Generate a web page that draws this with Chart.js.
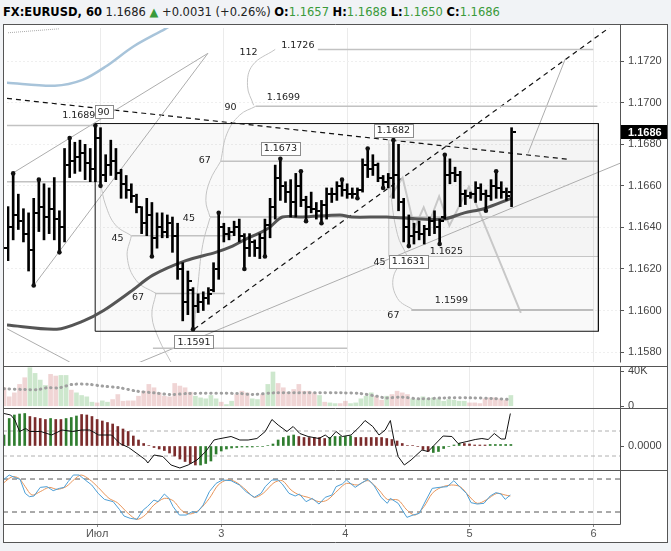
<!DOCTYPE html>
<html>
<head>
<meta charset="utf-8">
<script src="https://cdn.jsdelivr.net/npm/chart.js@4.4.1/dist/chart.umd.min.js"></script>
<style>
  body { margin: 0; width: 671px; height: 551px; overflow: hidden; position: relative; background: #f1f3f6; font-family: "DejaVu Sans", sans-serif; }
  #hdr { position: absolute; left: 3px; top: 4px; font-size: 11.5px; line-height: 16px; white-space: nowrap; color: #222; }
  #hdr b { color: #000; }
  #hdr .g { color: #3a9a3a; }
  canvas { position: absolute; left: 3px; background: #fff; }
</style>
</head>
<body>
<div id="hdr"><b>FX:EURUSD, 60</b> 1.1686 <span class="g">▲</span> +0.0031 (+0.26%) <b>O:</b><span class="g">1.1657</span> <b>H:</b><span class="g">1.1688</span> <b>L:</b><span class="g">1.1650</span> <b>C:</b><span class="g">1.1686</span></div>
<canvas id="main" width="665" height="342" style="top:24px"></canvas>
<canvas id="vol" width="665" height="42" style="top:366px"></canvas>
<canvas id="macd" width="665" height="62" style="top:408px"></canvas>
<canvas id="stoch" width="665" height="73" style="top:470px"></canvas>
<script>
// x axis: one unit per hourly bar
const dayTicks = [18, 42, 66, 90, 114];
const dayLabels = ['Июл', '3', '4', '5', '6'];
const priceTicks = [1.158, 1.160, 1.162, 1.164, 1.166, 1.168, 1.170, 1.172];
const lastPrice = 1.1686;

const opens = [1.1630,1.1640,1.1646,1.1643,1.1637,1.1629,1.1647,1.1650,1.1645,1.1649,
  1.1644,1.1640,1.1670,1.1672,1.1674,1.1676,1.1671,1.1668,1.1683,1.1665,
  1.1670,1.1672,1.1666,1.1661,1.1658,1.1655,1.1650,1.1642,1.1646,1.1635,
  1.1640,1.1638,1.1642,1.1636,1.1620,1.1604,1.1610,1.1602,1.1604,1.1606,
  1.1610,1.1620,1.1640,1.1637,1.1638,1.1640,1.1636,1.1630,1.1633,1.1630,
  1.1635,1.1641,1.1650,1.1664,1.1660,1.1657,1.1652,1.1660,1.1653,1.1650,
  1.1649,1.1648,1.1651,1.1656,1.1656,1.1660,1.1658,1.1656,1.1656,1.1658,
  1.1670,1.1668,1.1670,1.1664,1.1662,1.1664,1.1665,1.1652,1.1640,1.1636,
  1.1638,1.1637,1.1639,1.1643,1.1640,1.1645,1.1665,1.1666,1.1665,1.1656,
  1.1655,1.1656,1.1659,1.1656,1.1655,1.1660,1.1659,1.1657,1.1657];
const highs = [1.1650,1.1666,1.1656,1.1649,1.1647,1.1654,1.1663,1.1661,1.1659,1.1664,
  1.1648,1.1678,1.1683,1.1681,1.1682,1.1680,1.1678,1.1689,1.1688,1.1675,
  1.1682,1.1678,1.1668,1.1665,1.1661,1.1656,1.1650,1.1654,1.1652,1.1647,
  1.1647,1.1646,1.1645,1.1642,1.1623,1.1619,1.1611,1.1608,1.1609,1.1611,
  1.1623,1.1647,1.1642,1.1640,1.1643,1.1644,1.1637,1.1637,1.1634,1.1637,
  1.1644,1.1654,1.1670,1.1673,1.1662,1.1663,1.1666,1.1667,1.1655,1.1657,
  1.1652,1.1653,1.1659,1.1659,1.1662,1.1663,1.1661,1.1659,1.1659,1.1673,
  1.1678,1.1675,1.1671,1.1665,1.1666,1.1682,1.1680,1.1654,1.1646,1.1642,
  1.1643,1.1641,1.1645,1.1648,1.1644,1.1675,1.1673,1.1669,1.1667,1.1658,
  1.1657,1.1662,1.1661,1.1658,1.1663,1.1667,1.1662,1.1659,1.1688];
const lows = [1.1624,1.1634,1.1639,1.1633,1.1619,1.1612,1.1638,1.1634,1.1637,1.1634,
  1.1628,1.1633,1.1664,1.1666,1.1667,1.1663,1.1662,1.1662,1.1660,1.1662,
  1.1665,1.1663,1.1654,1.1654,1.1652,1.1647,1.1637,1.1636,1.1626,1.1630,
  1.1635,1.1635,1.1628,1.1615,1.1595,1.1598,1.1591,1.1599,1.1600,1.1603,
  1.1609,1.1615,1.1633,1.1634,1.1636,1.1633,1.1620,1.1626,1.1626,1.1625,
  1.1626,1.1635,1.1644,1.1653,1.1652,1.1645,1.1645,1.1650,1.1643,1.1647,
  1.1644,1.1642,1.1644,1.1652,1.1653,1.1655,1.1654,1.1654,1.1654,1.1657,
  1.1664,1.1665,1.1662,1.1659,1.1659,1.1654,1.1648,1.1633,1.1631,1.1632,
  1.1634,1.1632,1.1636,1.1637,1.1632,1.1644,1.1661,1.1662,1.1650,1.1651,
  1.1654,1.1652,1.1653,1.1648,1.1653,1.1654,1.1654,1.1653,1.1650];
const closes = [1.1640,1.1646,1.1643,1.1637,1.1629,1.1647,1.1650,1.1645,1.1649,1.1644,
  1.1640,1.1670,1.1672,1.1674,1.1676,1.1671,1.1668,1.1683,1.1665,1.1670,
  1.1672,1.1666,1.1661,1.1658,1.1655,1.1650,1.1642,1.1646,1.1635,1.1640,
  1.1638,1.1642,1.1636,1.1620,1.1604,1.1614,1.1602,1.1604,1.1606,1.1608,
  1.1620,1.1640,1.1637,1.1638,1.1640,1.1636,1.1630,1.1633,1.1630,1.1635,
  1.1641,1.1650,1.1664,1.1660,1.1657,1.1652,1.1660,1.1653,1.1650,1.1649,
  1.1648,1.1651,1.1656,1.1656,1.1660,1.1658,1.1656,1.1656,1.1658,1.1670,
  1.1668,1.1670,1.1664,1.1662,1.1664,1.1665,1.1652,1.1640,1.1636,1.1638,
  1.1637,1.1639,1.1643,1.1640,1.1643,1.1665,1.1666,1.1665,1.1656,1.1655,
  1.1656,1.1659,1.1656,1.1655,1.1660,1.1659,1.1657,1.1655,1.1686];

// swing points marked with dots
const pivotHi = [1, 6, 12, 17, 41, 53, 57, 65, 70, 75, 85, 95];
const pivotLo = [5, 10, 18, 28, 36, 46, 50, 58, 61, 68, 73, 78, 84, 93];

// moving average and upper band, [bar, price]
const maPts = [[-0.2,1.1593],[9.5,1.1591],[14.7,1.1595],[18.6,1.1600],[23.8,1.1609],[28.2,1.1617],
  [34.6,1.1624],[40.4,1.1628],[43.7,1.1631],[46,1.1634],[49.5,1.1638],[50.9,1.1640],[53.4,1.1645],
  [57.3,1.1645],[64.6,1.1646],[66.9,1.1645],[73.7,1.1645],[80.5,1.1644],[84.9,1.1644],[88.8,1.1647],
  [92.6,1.1649],[98,1.1654]];
const bandPts = [[-0.2,1.17096],[9.1,1.17082],[14.5,1.1711],[19.1,1.17176],[24.4,1.17271],[30.6,1.17356],[33.1,1.17393]];

// drawings on the price pane, [bar, price]
const rectBig = [[16.96, 1.1690], [114.9, 1.1590]];
const rectSmall = [[74.1, 1.1682], [114.9, 1.1626]];
const fibLevels = [[-0.2,17,1.1689],[-0.2,18,1.1662],[24,43.7,1.1636],[28.6,42.2,1.16082],[41.4,114.9,1.16719],
  [39.3,114.9,1.1645],[48.2,114.7,1.16983],[60.3,113.9,1.17257],[28.2,66,1.15818]];
const level1599 = [78.5, 113.9, 1.16002];
const trendLines = [
  [[0.97,1.16662],[38.9,1.17238]],
  [[5.0,1.16120],[38.9,1.17238]],
  [[24.4,1.15738],[120.1,1.16719]],
  [[-0.2,1.15912],[12,1.15752]],
  [[108.5,1.17214],[101.2,1.16757]]
];
const zigzag = [[74.3,1.16544],[76.8,1.16639],[79.1,1.16398],[80.9,1.16497],[82.0,1.16426],[83.9,1.16549],
  [85.9,1.16408],[89.7,1.16596],[99.8,1.15988]];
const dashLines = [
  [[-0.2,1.17021],[108.9,1.16728]],
  [[36.2,1.1591],[120.1,1.17417]]
];
const dotLine = [[0,1.17337],[9.9,1.17356]];
const arcs = [
  [[52.0,1.17257],[47.6,1.17181],[46.6,1.17082],[47.8,1.16988]],
  [[48.2,1.16983],[45.1,1.16941],[42.6,1.16851],[41.4,1.16719]],
  [[41.4,1.16719],[39.3,1.16625],[38.5,1.16530],[39.3,1.16450]],
  [[39.3,1.16445],[37.9,1.16318],[36.9,1.16106],[36.2,1.15903]],
  [[18.0,1.16610],[19.0,1.16507],[20.9,1.16412],[24.0,1.16360]],
  [[24.0,1.16360],[23.2,1.16257],[25.0,1.16143],[28.8,1.16082]],
  [[28.8,1.16082],[28.0,1.15974],[29.4,1.15860],[31.7,1.15752]],
  [[74.3,1.16804],[74.5,1.16577],[75.8,1.16365],[77.6,1.16266]],
  [[77.6,1.16261],[75.0,1.16162],[75.8,1.16058],[78.9,1.16002]]
];
// [bar, price, text, boxed, align]
const notes = [
  [17.0,1.16940,'1.1689',false,'right'],
  [18.6,1.16955,'90',true,'center'],
  [53.0,1.16779,'1.1673',true,'center'],
  [75.0,1.16864,'1.1682',true,'center'],
  [77.9,1.16235,'1.1631',true,'center'],
  [36.2,1.15846,'1.1591',true,'center'],
  [56.4,1.17277,'1.1726',false,'center'],
  [53.6,1.17024,'1.1699',false,'center'],
  [85.3,1.16286,'1.1625',false,'center'],
  [86.3,1.16046,'1.1599',false,'center'],
  [46.8,1.17242,'112',false,'center'],
  [43.3,1.16978,'90',false,'center'],
  [38.3,1.16724,'67',false,'center'],
  [35.2,1.16445,'45',false,'center'],
  [21.3,1.16346,'45',false,'center'],
  [25.3,1.16063,'67',false,'center'],
  [72.3,1.16233,'45',false,'center'],
  [75.0,1.15974,'67',false,'center']
];

// volume, thousands
const volumes = [21.0,10.7,15.2,24.8,32.4,43.8,37.3,29.7,23.6,36.2,
  34.3,35.0,35.0,18.3,15.2,12.2,10.7,4.6,3.8,6.1,
  4.6,7.6,13.3,5.7,6.1,6.1,11.4,17.1,24.8,21.0,
  15.2,11.4,10.7,25.9,22.9,21.0,16.0,11.4,9.5,8.4,
  12.2,8.4,4.6,1.9,5.7,13.3,17.1,15.2,8.4,7.6,
  13.3,24.8,38.9,25.9,21.0,16.0,19.0,24.8,17.1,17.1,
  15.2,12.2,4.6,3.8,3.0,3.0,5.7,3.0,3.8,8.4,
  11.4,15.2,11.4,6.9,11.4,13.3,17.1,15.2,13.3,8.4,
  7.6,10.7,8.4,9.5,8.4,5.7,7.6,6.9,5.7,5.7,
  3.8,3.8,3.0,8.4,9.5,9.5,8.4,6.9,12.2];
const volDir = ['rrrrrggggr','rggrggggrg','grrrrrrrrr','rrrrrrrggg','ggrggrrrgg',
  'rggrrrrrrr','rgrggrrggg','ggrrgrrrrg','gggggggggg','rrrrrrrrg'].join('');
const volMaX = [0,4.1,6.6,8.3,10.7,13.2,16.5,19,22.3,25.7,29,32.3,35.6,45.5,48,52.2,65.4,68.8,72.1,73.7,77,80.3,85.3,90.3,94.5,97.8];
const volMaY = [19.8,19.0,19.0,21.0,21.0,24.8,24.8,22.9,21.0,17.1,15.2,13.3,14.5,14.5,13.3,15.2,15.2,14.5,11.4,9.5,10.3,8.4,9.5,9.5,8.8,7.6];

// MACD pane, units of 0.00001
const macdHist = [22,55,62,64,65,59,57,55,53,55,
  53,53,55,57,60,63,62,59,53,50,
  47,44,39,34,29,20,12,5,1,-3,
  -6,-9,-14,-20,-26,-31,-35,-38,-38,-35,
  -30,-16,-10,-6,-4,-3,-2,-2,-2,-1,
  -1,1,4,12,17,20,22,19,17,17,
  17,17,15,17,19,19,19,20,17,17,
  17,17,17,17,15,13,10,5,1,1,
  -1,-7,-11,-13,-11,-5,-1,2,5,5,
  4,2,2,2,3,3,3,3,3];
const histDir = ['gggggmmmmg','mmgggmmmmm','mmmmmmmmmm','mmmmmmmmgg','gggggggggg',
  'gggggggmmm','mmmgggggmm','mmmmmmmmmm','mmmggggggm','mmmmggggg'].join('');
const macdX = [0,1.3,2.1,3,4.2,5,7.1,9.2,11.2,13.3,15,16.6,18.3,20.8,22.4,24.1,25.7,27.4,27.8,29,
  30.7,32.3,34,35.6,37.3,39,40.6,41.4,43.9,45.6,47.2,48.9,50.5,51.8,53,54.7,55.9,57.2,58.8,60.9,
  62.1,63,64.2,65.4,67.1,68.8,69.8,71.3,72.5,73.7,74.7,75.4,76.2,77.4,78.7,80.8,82,84.9,86.6,87.8,
  89.5,91.1,92.4,93.6,94.8,96.1,96.9,97.9];
const macdY = [65,62,52,29,35,29,29,22,32,29,32,32,22,22,5,-3,-15,-28,-34,-18,
  -21,-38,-44,-38,-28,-11,12,14,19,12,12,15,29,53,42,29,39,25,19,15,
  22,15,29,19,22,39,51,39,22,32,51,12,-21,-38,-28,-8,-11,20,19,5,
  9,13,15,13,25,14,14,65];
const macdBands = [30, -20];

// stochastic
const kX = [-0.2,1.0,2.0,3.1,4.1,4.9,5.8,7.0,8.3,9.5,10.7,11.6,12.4,13.4,14.5,15.7,16.96,18.2,19.4,21.1,
  22.3,23.2,24.4,25.7,26.9,27.7,28.97,29.8,31.0,31.9,32.7,33.9,35.2,36.4,37.3,38.5,39.7,41.0,42.2,43.9,
  45.5,46.8,48.4,49.7,50.5,51.8,53.0,53.8,55.1,56.3,57.1,58.4,59.6,60.9,62.1,63.4,64.2,65.4,66.2,67.9,
  69.2,70.4,71.6,72.9,74.1,74.7,76.2,77.0,77.9,79.1,80.3,81.6,82.8,84.1,85.7,86.97,88.2,89.4,90.3,91.5,
  92.8,94.0,95.1,96.1,96.9,97.9];
const kY = [78.2,87.3,83.0,79.4,53.9,47.9,49.1,64.8,66.1,58.8,63.0,64.8,75.2,87.3,87.3,78.2,69.1,53.9,43.0,38.8,
  24.8,12.7,8.5,6.7,23.6,29.7,41.8,38.8,52.7,44.8,29.7,14.5,14.5,20.6,18.8,32.7,57.0,72.1,78.2,77.0,
  69.1,57.0,46.7,53.9,66.1,78.2,78.2,70.9,53.9,49.1,52.7,38.8,44.8,34.5,46.7,50.9,66.1,70.9,78.2,64.8,
  73.3,79.4,67.3,46.7,35.8,44.8,35.8,23.6,10.3,14.5,17.6,41.8,63.0,64.8,66.1,77.0,64.8,53.9,37.0,34.5,
  35.8,49.1,55.2,52.7,43.0,50.9];
const dX = [-0.2,1.6,2.9,4.1,5.4,7.0,8.7,10.3,12.0,13.6,14.9,16.5,18.2,20.3,21.9,24.0,25.7,27.3,28.97,31.0,
  32.7,34.4,36.0,37.7,39.7,41.4,43.1,44.7,46.8,48.4,50.1,52.2,53.8,55.5,57.1,58.8,60.9,62.5,64.6,66.2,
  68.3,70.4,72.5,74.1,76.2,77.9,79.5,81.2,82.8,84.5,86.5,88.2,89.9,91.5,93.2,95.3,96.9,97.9];
const dY = [72.1,84.2,81.2,66.1,50.9,57.0,64.8,61.2,66.1,79.4,87.3,79.4,64.8,44.8,37.0,17.6,6.7,14.5,32.7,44.8,
  40.6,22.4,16.4,23.6,44.8,69.1,78.2,75.2,60.0,46.7,53.9,73.3,77.0,60.0,50.9,46.7,38.8,41.8,60.0,72.1,
  69.1,77.0,60.0,43.0,41.8,23.6,14.5,29.7,53.9,64.8,69.1,66.1,49.1,35.8,41.8,53.9,50.9,49.1];
const stochBands = [80, 20];

const X_MIN = -0.2, X_MAX = 119.1;
Chart.defaults.font.family = 'Liberation Sans';

const pts = arr => arr.map(p => ({x: p[0], y: p[1]}));
function lineDs(points, color, width, extra) {
  return Object.assign({type: 'line', data: pts(points), borderColor: color, borderWidth: width,
    pointRadius: 0, fill: false, tension: 0, order: 10}, extra || {});
}
function hLine(v, color, dash) {
  return lineDs([[X_MIN, v], [X_MAX, v]], color, 1, {borderDash: dash});
}

const framePlugin = {
  id: 'frame',
  afterDraw(chart, args, opts) {
    const {ctx, chartArea: a, width, height} = chart;
    const r = Math.round(a.right) + 0.5, b = Math.round(a.bottom) + 0.5;
    ctx.save();
    ctx.strokeStyle = '#555';
    ctx.lineWidth = 1;
    ctx.beginPath();
    ctx.moveTo(0, 0.5); ctx.lineTo(width, 0.5);
    ctx.moveTo(0.5, 0); ctx.lineTo(0.5, height);
    ctx.moveTo(width - 0.5, 0); ctx.lineTo(width - 0.5, height);
    ctx.moveTo(r, 0); ctx.lineTo(r, b);
    if (opts.last) {
      ctx.moveTo(0, b); ctx.lineTo(r, b);
      ctx.moveTo(0, height - 0.5); ctx.lineTo(width, height - 0.5);
    }
    ctx.stroke();
    ctx.restore();
  }
};

function paneOptions(yMin, yMax, yTicks, yLabel, showX, yGrid) {
  return {
    responsive: false, animation: false, devicePixelRatio: 1,
    layout: {padding: 0},
    plugins: {legend: {display: false}, tooltip: {enabled: false}, frame: {last: showX}},
    scales: {
      x: {
        type: 'linear', min: X_MIN, max: X_MAX, offset: false,
        afterBuildTicks: s => { s.ticks = dayTicks.map(v => ({value: v})); },
        afterFit: s => { s.height = showX ? 19 : 0; s.paddingLeft = 0; s.paddingRight = 0; },
        grid: {color: '#ebebeb', offset: false, drawTicks: showX, tickLength: 3, tickColor: '#888'},
        border: {display: false},
        ticks: {display: showX, padding: 0, color: '#555', font: {size: 11}, maxRotation: 0, autoSkip: false,
          callback: v => { const k = dayTicks.indexOf(v); return k < 0 ? '' : dayLabels[k]; }}
      },
      y: {
        position: 'right', min: yMin, max: yMax,
        afterBuildTicks: s => { s.ticks = yTicks.map(v => ({value: v})); },
        afterFit: s => { s.width = 48; s.paddingTop = 0; s.paddingBottom = 0; },
        grid: {color: '#efefef', drawOnChartArea: yGrid, tickLength: 4, tickColor: '#555'},
        border: {display: false, dash: [2, 2]},
        ticks: {padding: 4, color: '#444', font: {size: 11}, callback: yLabel}
      }
    }
  };
}

// price pane
const mainDs = [];
mainDs.push(lineDs([[rectBig[0][0], rectBig[0][1]], [rectBig[1][0], rectBig[0][1]], [rectBig[1][0], rectBig[1][1]],
  [rectBig[0][0], rectBig[1][1]], [rectBig[0][0], rectBig[0][1]]], '#111', 1));
mainDs.push(lineDs([[rectSmall[0][0], rectSmall[0][1]], [rectSmall[1][0], rectSmall[0][1]], [rectSmall[1][0], rectSmall[1][1]],
  [rectSmall[0][0], rectSmall[1][1]], [rectSmall[0][0], rectSmall[0][1]]], '#c4c4c4', 1));
fibLevels.forEach(f => mainDs.push(lineDs([[f[0], f[2]], [f[1], f[2]]], '#c2c2c2', 1.5)));
mainDs.push(lineDs([[level1599[0], level1599[2]], [level1599[1], level1599[2]]], '#bdbdbd', 2));
arcs.forEach(a => mainDs.push(lineDs(a, '#c4c4c4', 1, {tension: 0.4})));
trendLines.forEach(t => mainDs.push(lineDs(t, '#adadad', 1)));
mainDs.push(lineDs(zigzag, '#c8c8c8', 2));
dashLines.forEach(d => mainDs.push(lineDs(d, '#111', 1.2, {borderDash: [5, 4]})));
mainDs.push(lineDs(dotLine, '#aaa', 1, {borderDash: [1, 1]}));
mainDs.push(lineDs(bandPts, '#a8c4da', 2.5, {tension: 0.3, order: 9}));
mainDs.push(lineDs(maPts, '#555', 3, {tension: 0.3, order: 2}));
mainDs.push({type: 'bar', data: highs.map((h, i) => ({x: i, y: [lows[i], h]})), backgroundColor: '#000',
  barThickness: 2, order: 1});
mainDs.push({type: 'scatter', data: pivotHi.map(i => ({x: i, y: highs[i]})).concat(pivotLo.map(i => ({x: i, y: lows[i]}))),
  pointRadius: 2.3, pointBackgroundColor: '#111', pointBorderWidth: 0, order: 0});

const shadePlugin = {
  id: 'shade',
  beforeDatasetsDraw(chart) {
    const {ctx, scales: {x, y}} = chart;
    ctx.save();
    ctx.fillStyle = 'rgba(0,0,0,0.022)';
    [rectBig, rectSmall].forEach(r => {
      const x0 = x.getPixelForValue(r[0][0]), x1 = x.getPixelForValue(r[1][0]);
      const y0 = y.getPixelForValue(r[0][1]), y1 = y.getPixelForValue(r[1][1]);
      ctx.fillRect(x0, y0, x1 - x0, y1 - y0);
    });
    ctx.restore();
  }
};

const ohlcPlugin = {
  id: 'ohlc',
  afterDatasetsDraw(chart) {
    const {ctx, scales: {x, y}} = chart;
    ctx.save();
    ctx.fillStyle = '#000';
    for (let i = 0; i < closes.length; i++) {
      const px = Math.round(x.getPixelForValue(i));
      ctx.fillRect(px - 4, Math.round(y.getPixelForValue(opens[i])) - 1, 3, 2);
      ctx.fillRect(px + 1, Math.round(y.getPixelForValue(closes[i])) - 1, 3, 2);
    }
    ctx.font = '9.5px "DejaVu Sans"';
    ctx.textBaseline = 'middle';
    notes.forEach(n => {
      const px = x.getPixelForValue(n[0]), py = y.getPixelForValue(n[1]);
      const w = ctx.measureText(n[2]).width;
      ctx.textAlign = n[4];
      if (n[3]) {
        ctx.fillStyle = '#fff';
        ctx.strokeStyle = '#8c8c8c';
        ctx.lineWidth = 1;
        ctx.fillRect(Math.round(px - w / 2 - 3) + 0.5, Math.round(py - 7) + 0.5, Math.round(w + 6), 13);
        ctx.strokeRect(Math.round(px - w / 2 - 3) + 0.5, Math.round(py - 7) + 0.5, Math.round(w + 6), 13);
      }
      ctx.fillStyle = '#222';
      ctx.fillText(n[2], px, py);
    });
    ctx.restore();
  },
  afterDraw(chart) {
    const {ctx, chartArea: a, width, scales: {y}} = chart;
    const py = Math.round(y.getPixelForValue(lastPrice));
    ctx.save();
    ctx.fillStyle = '#000';
    ctx.fillRect(a.right + 1, py - 7, width - a.right - 2, 14);
    ctx.fillStyle = '#fff';
    ctx.font = 'bold 11px "Liberation Sans"';
    ctx.textBaseline = 'middle';
    ctx.fillText(lastPrice.toFixed(4), a.right + 8, py + 0.5);
    ctx.restore();
  }
};

new Chart(document.getElementById('main'), {
  type: 'bar',
  data: {datasets: mainDs},
  options: paneOptions(1.15752, 1.17360, priceTicks, v => v.toFixed(4), false, true),
  plugins: [shadePlugin, ohlcPlugin, framePlugin]
});

// volume pane
new Chart(document.getElementById('vol'), {
  type: 'bar',
  data: {datasets: [
    lineDs(volMaX.map((v, k) => [v, volMaY[k]]), '#a0a0a0', 3, {borderDash: [0.5, 4.7], borderCapStyle: 'round', tension: 0.3, order: 0}),
    {type: 'bar', data: volumes.map((v, i) => ({x: i, y: v})), barThickness: 4, order: 1,
      backgroundColor: volumes.map((v, i) => volDir[i] === 'g' ? 'rgba(100,180,100,0.32)' : 'rgba(205,115,115,0.3)')}
  ]},
  options: paneOptions(-2, 45.7, [0, 40], v => v === 0 ? '0' : v + 'K', false, false),
  plugins: [framePlugin]
});

// MACD pane
new Chart(document.getElementById('macd'), {
  type: 'bar',
  data: {datasets: [
    hLine(macdBands[0], '#b0b0b0', [4, 3]),
    hLine(macdBands[1], '#b0b0b0', [4, 3]),
    {type: 'bar', data: macdHist.map((v, i) => ({x: i, y: v})), barThickness: 2, order: 2,
      backgroundColor: macdHist.map((v, i) => histDir[i] === 'g' ? '#2f7d2f' : '#7b2c2c')},
    lineDs(macdX.map((v, k) => [v, macdY[k]]), '#111', 1, {order: 0})
  ]},
  options: paneOptions(-48, 76, [0], () => '0.0000', false, false),
  plugins: [framePlugin]
});

// stochastic pane
new Chart(document.getElementById('stoch'), {
  type: 'line',
  data: {datasets: [
    hLine(stochBands[0], '#555', [5, 4]),
    hLine(stochBands[1], '#555', [5, 4]),
    lineDs(dX.map((v, k) => [v, dY[k]]), '#e8955a', 1, {tension: 0.3, order: 1}),
    lineDs(kX.map((v, k) => [v, kY[k]]), '#4d9fd6', 1, {order: 0})
  ]},
  options: paneOptions(-1.8, 96.4, [], () => '', true, false),
  plugins: [framePlugin]
});
</script>
</body>
</html>
